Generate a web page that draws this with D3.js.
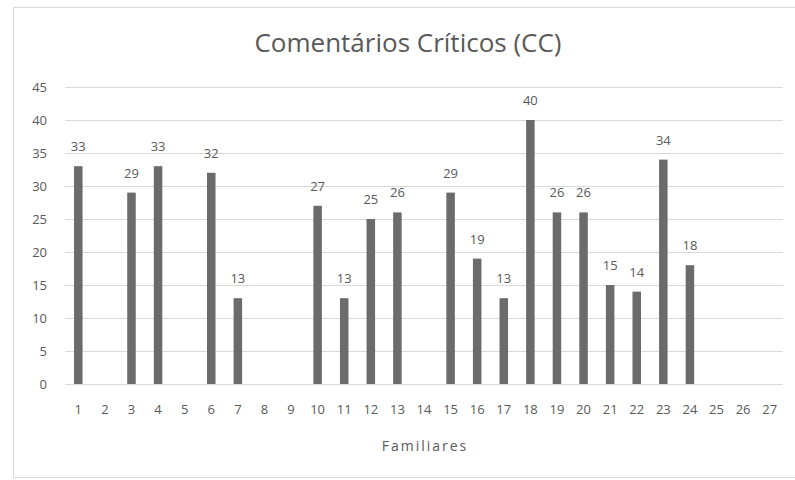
<!DOCTYPE html>
<html>
<head>
<meta charset="utf-8">
<script src="https://cdn.jsdelivr.net/npm/d3@7"></script>
<style>
  body { margin: 0; background: #fff; }
  svg text { font-family: "Open Sans", "Noto Sans", sans-serif; fill: #595959; }
</style>
</head>
<body>
<svg id="chart" width="795" height="480"></svg>
<script>
const familiares = d3.range(1, 28).map(String);
const comentarios = [33, null, 29, 33, null, 32, 13, null, null, 27, 13, 25, 26, null,
  29, 19, 13, 40, 26, 26, 15, 14, 34, 18, null, null, null];
const yTicks = [0, 5, 10, 15, 20, 25, 30, 35, 40, 45];

const svg = d3.select("#chart");
const W = 795, H = 480;
const margin = { left: 65, right: 12, top: 87, bottom: 96 };

// chart frame
svg.append("rect")
  .attr("x", 13.5).attr("y", 7.5)
  .attr("width", W).attr("height", 470)
  .attr("fill", "#fff").attr("stroke", "#d9d9d9");

const x = d3.scaleBand()
  .domain(familiares)
  .range([margin.left, W - margin.right])
  .paddingInner(0.68).paddingOuter(0.34);

const y = d3.scaleLinear().domain([0, 45]).range([H - margin.bottom, margin.top]);

// gridlines
svg.append("g")
  .selectAll("line")
  .data(yTicks)
  .join("line")
  .attr("x1", margin.left).attr("x2", W - margin.right)
  .attr("y1", d => Math.round(y(d)) + 0.5).attr("y2", d => Math.round(y(d)) + 0.5)
  .attr("stroke", "#d9d9d9");

// y labels
svg.append("g")
  .selectAll("text")
  .data(yTicks)
  .join("text")
  .attr("x", 47).attr("y", d => y(d))
  .attr("dy", "0.35em")
  .attr("text-anchor", "end")
  .attr("font-size", 13)
  .text(d => d);

const data = familiares.map((f, i) => ({ f, v: comentarios[i] }));

// bars
svg.append("g")
  .selectAll("rect")
  .data(data.filter(d => d.v != null))
  .join("rect")
  .attr("x", d => x(d.f))
  .attr("y", d => y(d.v))
  .attr("width", x.bandwidth())
  .attr("height", d => y(0) - y(d.v))
  .attr("fill", "#6b6b6b");

// value labels
svg.append("g")
  .selectAll("text")
  .data(data.filter(d => d.v != null))
  .join("text")
  .attr("x", d => x(d.f) + x.bandwidth() / 2)
  .attr("y", d => y(d.v) - 15)
  .attr("text-anchor", "middle")
  .attr("font-size", 13)
  .text(d => d.v);

// x axis labels
svg.append("g")
  .selectAll("text")
  .data(familiares)
  .join("text")
  .attr("x", d => x(d) + x.bandwidth() / 2)
  .attr("y", 414)
  .attr("text-anchor", "middle")
  .attr("font-size", 13)
  .text(d => d);

svg.append("text")
  .attr("x", 425).attr("y", 451)
  .attr("text-anchor", "middle")
  .attr("font-size", 14)
  .attr("letter-spacing", 2)
  .text("Familiares");

svg.append("text")
  .attr("x", 408).attr("y", 52)
  .attr("text-anchor", "middle")
  .attr("font-size", 26)
  .text("Comentários Críticos (CC)");
</script>
</body>
</html>
